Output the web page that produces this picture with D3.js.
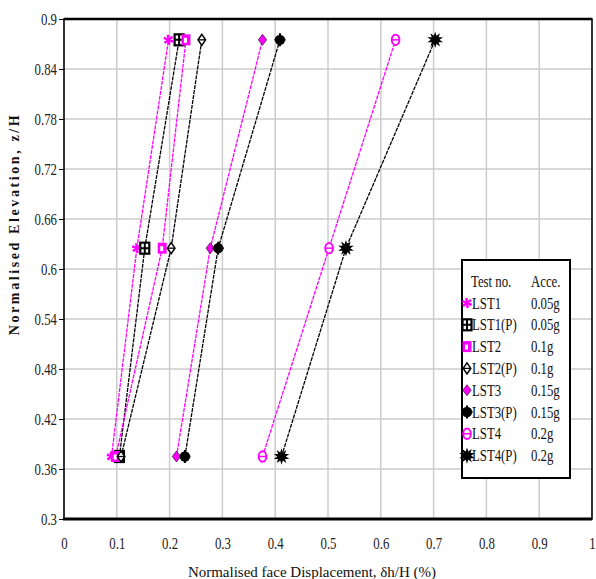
<!DOCTYPE html>
<html>
<head>
<meta charset="utf-8">
<script src="https://cdn.jsdelivr.net/npm/d3@7"></script>
<style>
  body { margin: 0; background: #fff; }
  svg { display: block; }
  text { font-family: "Liberation Serif", "Times New Roman", "DejaVu Serif", serif; }
</style>
</head>
<body>
<svg id="vis" width="596" height="579"></svg>
<script>
// elevations (z/H) at which the face displacement was measured
var elevations = [0.375, 0.625, 0.875];

// displacement values (%) for each test, bottom to top
var lst1  = [0.090, 0.138, 0.198];
var lst1p = [0.105, 0.153, 0.218];
var lst2  = [0.098, 0.186, 0.231];
var lst2p = [0.108, 0.203, 0.261];
var lst3  = [0.213, 0.277, 0.376];
var lst3p = [0.229, 0.292, 0.409];
var lst4  = [0.376, 0.502, 0.628];
var lst4p = [0.412, 0.534, 0.703];

var testNames = ["LST1", "LST1(P)", "LST2", "LST2(P)", "LST3", "LST3(P)", "LST4", "LST4(P)"];
var accels = ["0.05g", "0.05g", "0.1g", "0.1g", "0.15g", "0.15g", "0.2g", "0.2g"];

var xTicks = [0, 0.1, 0.2, 0.3, 0.4, 0.5, 0.6, 0.7, 0.8, 0.9, 1];
var yTicks = [0.3, 0.36, 0.42, 0.48, 0.54, 0.6, 0.66, 0.72, 0.78, 0.84, 0.9];

var MARGINS = {top: 19, right: 4, bottom: 60, left: 64};
var width = 596, height = 579;
var MAGENTA = "#ff00ff";
var SERIF = "Liberation Serif, Times New Roman, DejaVu Serif, serif";

var series = [
  {name: testNames[0], vals: lst1,  color: MAGENTA, mark: "asterisk"},
  {name: testNames[1], vals: lst1p, color: "#000",  mark: "boxcross"},
  {name: testNames[2], vals: lst2,  color: MAGENTA, mark: "square"},
  {name: testNames[3], vals: lst2p, color: "#000",  mark: "opendiamond"},
  {name: testNames[4], vals: lst3,  color: MAGENTA, mark: "diamond"},
  {name: testNames[5], vals: lst3p, color: "#000",  mark: "circle"},
  {name: testNames[6], vals: lst4,  color: MAGENTA, mark: "opencircle"},
  {name: testNames[7], vals: lst4p, color: "#000",  mark: "star"}
];

var display = d3.select("#vis");

var x = d3.scaleLinear().domain([0, 1]).range([MARGINS.left, width - MARGINS.right]);
var y = d3.scaleLinear().domain([0.3, 0.9]).range([height - MARGINS.bottom, MARGINS.top]);

// grid
var grid = display.append("g").attr("stroke", "#cccccc").attr("stroke-width", 1.5);
grid.selectAll("line.vx").data(xTicks.slice(1, -1)).enter().append("line")
  .attr("x1", d => x(d)).attr("x2", d => x(d))
  .attr("y1", y(0.3)).attr("y2", y(0.9));
grid.selectAll("line.hy").data(yTicks.slice(1, -1)).enter().append("line")
  .attr("x1", x(0)).attr("x2", x(1))
  .attr("y1", d => y(d)).attr("y2", d => y(d));

// y axis ticks + labels
var yAxis = d3.axisLeft(y).tickValues(yTicks).tickSize(5).tickSizeOuter(0).tickFormat(d3.format("~g"));
var yg = display.append("g").attr("transform", `translate(${MARGINS.left},0)`).call(yAxis)
  .attr("font-family", SERIF);
yg.select(".domain").remove();
yg.selectAll("line").attr("stroke", "#000");
yg.selectAll("text")
  .attr("x", null).attr("dy", null)
  .attr("transform", "translate(-7,5) scale(0.8,1)")
  .attr("font-family", SERIF).style("font-size", "16px").attr("fill", "#222");

// x axis labels
var xAxis = d3.axisBottom(x).tickValues(xTicks).tickSize(0).tickFormat(d3.format("~g"));
var xg = display.append("g").attr("transform", `translate(0,${height - MARGINS.bottom})`).call(xAxis)
  .attr("font-family", SERIF);
xg.select(".domain").remove();
xg.selectAll("text")
  .attr("y", null).attr("dy", null)
  .attr("transform", "translate(0,30) scale(0.8,1)")
  .attr("font-family", SERIF).style("font-size", "16px").attr("fill", "#222");

// frame
display.append("rect")
  .attr("x", x(0)).attr("y", y(0.9))
  .attr("width", x(1) - x(0)).attr("height", y(0.3) - y(0.9))
  .attr("fill", "none").attr("stroke", "#000").attr("stroke-width", 1.6);
display.append("line").attr("x1", x(0)).attr("x2", x(1)).attr("y1", y(0.9)).attr("y2", y(0.9))
  .attr("stroke", "#000").attr("stroke-width", 2.6);
display.append("line").attr("x1", x(0) - 1).attr("x2", x(1)).attr("y1", y(0.3)).attr("y2", y(0.3))
  .attr("stroke", "#000").attr("stroke-width", 3);

// lines
var line = d3.line().x(d => x(d[0])).y(d => y(d[1]));
display.selectAll("path.series").data(series).enter().append("path")
  .attr("class", "series")
  .attr("d", s => line(s.vals.map((v, i) => [v, elevations[i]])))
  .attr("fill", "none")
  .attr("stroke", s => s.color)
  .attr("stroke-width", 1.3)
  .attr("stroke-dasharray", "4,1");

// marker drawing
function drawMarker(g, mark, color) {
  if (mark === "asterisk") {
    g.append("path").attr("d", d3.symbol(d3.symbolAsterisk, 70)())
      .attr("fill", "none").attr("stroke", color).attr("stroke-width", 1.6);
    g.append("path").attr("d", d3.symbol(d3.symbolAsterisk, 70)()).attr("transform", "rotate(45)")
      .attr("fill", "none").attr("stroke", color).attr("stroke-width", 1.6);
  } else if (mark === "boxcross") {
    g.append("rect").attr("x", -4.5).attr("y", -5.5).attr("width", 9).attr("height", 11)
      .attr("fill", "#fff").attr("stroke", color).attr("stroke-width", 2.2);
    g.append("path").attr("d", "M0,-5.5V5.5M-4.5,0H4.5").attr("stroke", color).attr("stroke-width", 2);
  } else if (mark === "square") {
    g.append("rect").attr("x", -4.5).attr("y", -5.5).attr("width", 9).attr("height", 11)
      .attr("fill", color);
    g.append("rect").attr("x", -2).attr("y", -2).attr("width", 3).attr("height", 5).attr("fill", "#fff");
  } else if (mark === "opendiamond") {
    g.append("path").attr("d", "M0,-5.5L3.8,0L0,5.5L-3.8,0Z")
      .attr("fill", "#fff").attr("stroke", color).attr("stroke-width", 1.5);
    g.append("path").attr("d", "M-3.8,0H3.8").attr("stroke", color).attr("stroke-width", 1.3);
  } else if (mark === "diamond") {
    g.append("path").attr("d", "M0,-5.5L4.2,0L0,5.5L-4.2,0Z")
      .attr("fill", color).attr("stroke", "#000").attr("stroke-width", 0.6);
  } else if (mark === "circle") {
    g.append("path").attr("d", d3.symbol(d3.symbolCircle, 85)()).attr("fill", color);
    g.append("path").attr("d", "M0,-6.5V6.5M-5.5,0H5.5").attr("stroke", color).attr("stroke-width", 2);
  } else if (mark === "opencircle") {
    g.append("ellipse").attr("rx", 3.8).attr("ry", 5.2)
      .attr("fill", "#fff").attr("stroke", color).attr("stroke-width", 2);
    g.append("path").attr("d", "M-3.8,0H3.8").attr("stroke", color).attr("stroke-width", 1.5);
  } else if (mark === "star") {
    g.append("path").attr("d", d3.symbol(d3.symbolStar, 75)()).attr("fill", color);
    g.append("path").attr("d", d3.symbol(d3.symbolStar, 75)()).attr("transform", "rotate(180)").attr("fill", color);
    g.append("circle").attr("r", 3.5).attr("fill", color);
  }
}

series.forEach(function (s) {
  s.vals.forEach(function (v, i) {
    var g = display.append("g").attr("transform", `translate(${x(v)},${y(elevations[i])})`);
    drawMarker(g, s.mark, s.color);
  });
});

// legend
var legendBox = {x: 462, y: 260, w: 108, h: 218};
display.append("rect")
  .attr("x", legendBox.x).attr("y", legendBox.y)
  .attr("width", legendBox.w).attr("height", legendBox.h)
  .attr("fill", "#fff").attr("stroke", "#000").attr("stroke-width", 2);

function condText(px, py, str) {
  return display.append("text")
    .attr("transform", `translate(${px},${py}) scale(0.8,1)`)
    .attr("font-family", SERIF)
    .style("font-size", "16px").attr("fill", "#111").text(str);
}
condText(471, 287, "Test no.");
condText(531, 287, "Acce.");

var legend = display.selectAll(".legend").data(series).enter().append("g")
  .attr("class", "legend")
  .attr("transform", (d, i) => `translate(0,${303 + i * 21.8})`);
legend.each(function (s, i) {
  var g = d3.select(this);
  var m = g.append("g").attr("transform", "translate(467,0)");
  drawMarker(m, s.mark, s.color);
  g.append("text").attr("transform", "translate(472,5.5) scale(0.8,1)")
    .attr("font-family", SERIF)
    .style("font-size", "16px").attr("fill", "#111").text(s.name);
  g.append("text").attr("transform", "translate(531,5.5) scale(0.8,1)")
    .attr("font-family", SERIF)
    .style("font-size", "16px").attr("fill", "#111").text(accels[i]);
});

// axis titles
display.append("text")
  .attr("x", (x(0) + x(1)) / 2 - 16).attr("y", 577)
  .attr("text-anchor", "middle")
  .attr("font-family", SERIF)
  .style("font-size", "15px").attr("fill", "#111")
  .text("Normalised face Displacement, \u03b4h/H (%)");

display.append("text")
  .attr("transform", "translate(19,224) rotate(-90)")
  .attr("text-anchor", "middle")
  .attr("font-family", SERIF)
  .style("font-size", "14px").style("font-weight", "bold").style("letter-spacing", "2.6px")
  .attr("fill", "#111")
  .text("Normalised Elevation, z/H");
</script>
</body>
</html>
